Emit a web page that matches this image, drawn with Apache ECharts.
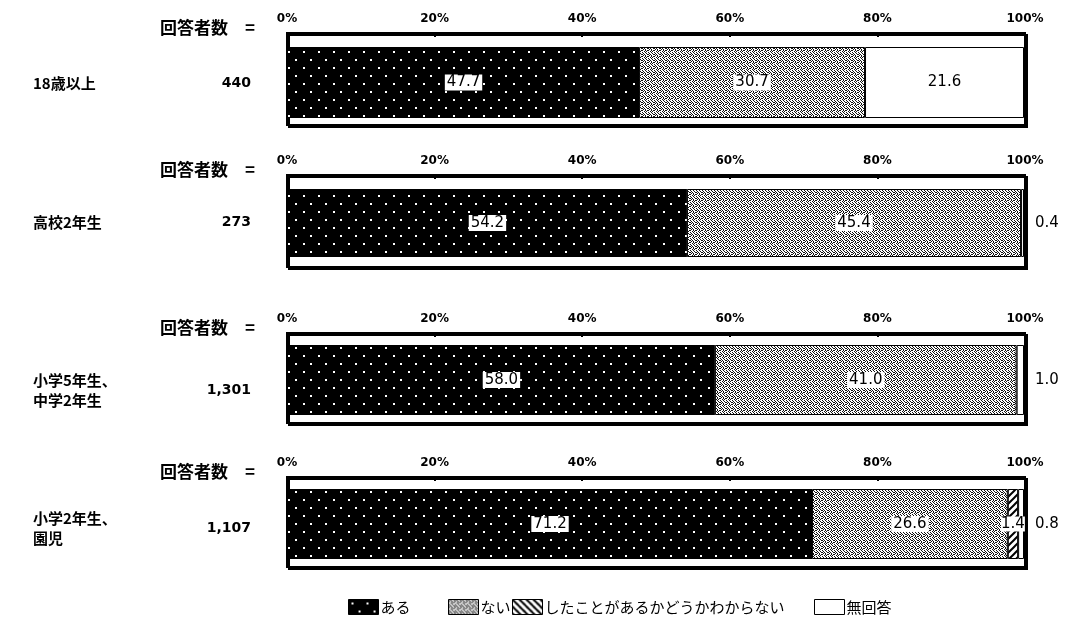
<!DOCTYPE html>
<html>
<head>
<meta charset="utf-8">
<script src="https://cdn.jsdelivr.net/npm/echarts@6/dist/echarts.min.js"></script>
<style>
html, body { margin: 0; padding: 0; background: #fff; }
#chart { width: 1066px; height: 630px; }
</style>
</head>
<body>
<div id="chart"></div>
<script>
// ---- data ----
const groupNames = ['18歳以上', '高校2年生', '小学5年生、\n中学2年生', '小学2年生、\n園児'];
const respondents = ['440', '273', '1,301', '1,107'];
const answerNames = ['ある', 'ない', 'したことがあるかどうかわからない', '無回答'];
const aru = [47.7, 54.2, 58.0, 71.2];
const nai = [30.7, 45.4, 41.0, 26.6];
const wakaranai = [null, null, null, 1.4];
const mukaitou = [21.6, 0.4, 1.0, 0.8];
const headerText = '回答者数　=';

// ---- layout: framed panel box and the bar band inside it ----
const panels = [
  { top: 33,  height: 92, barTop: 47,  barH: 71, labelY: 83 },
  { top: 175, height: 92, barTop: 189, barH: 68, labelY: 222 },
  { top: 333, height: 90, barTop: 345, barH: 70, labelY: 390 },
  { top: 477, height: 90, barTop: 489, barH: 70, labelY: 528 }
];
const legendLefts = [348, 448, 512, 814];
const JP = "'Noto Sans CJK JP', 'Noto Sans', sans-serif";
const NUM = "'DejaVu Sans', sans-serif";

// ---- fill patterns ----
function makeCanvas(w, h) {
  const c = document.createElement('canvas');
  c.width = w; c.height = h;
  return c;
}
function dotPattern() {
  const c = makeCanvas(15, 16), g = c.getContext('2d');
  g.fillStyle = '#000'; g.fillRect(0, 0, 15, 16);
  g.fillStyle = '#fff';
  g.fillRect(3, 3, 2, 2); g.fillRect(10, 11, 2, 2);
  return c;
}
function stipplePattern() {
  const mask = [
    '101001',
    '010100',
    '100101',
    '001010',
    '100100',
    '010010'
  ];
  const c = makeCanvas(6, 6), g = c.getContext('2d');
  g.fillStyle = '#fff'; g.fillRect(0, 0, 6, 6);
  g.fillStyle = '#111';
  mask.forEach((row, y) => {
    for (let x = 0; x < row.length; x++) if (row[x] === '1') g.fillRect(x, y, 1, 1);
  });
  return c;
}
function hatchPattern(forward) {
  const s = 7;
  const c = makeCanvas(s, s), g = c.getContext('2d');
  g.fillStyle = '#fff'; g.fillRect(0, 0, s, s);
  g.strokeStyle = '#000'; g.lineWidth = 2;
  const lines = forward
    ? [[-1, s + 1, s + 1, -1], [-1, 1, 1, -1], [s - 1, s + 1, s + 1, s - 1]]
    : [[-1, -1, s + 1, s + 1], [s - 1, -1, s + 1, 1], [-1, s - 1, 1, s + 1]];
  lines.forEach(l => { g.beginPath(); g.moveTo(l[0], l[1]); g.lineTo(l[2], l[3]); g.stroke(); });
  return c;
}
const fills = [
  { image: dotPattern(), repeat: 'repeat' },
  { image: stipplePattern(), repeat: 'repeat' },
  { image: hatchPattern(true), repeat: 'repeat' },
  '#fff'
];
const legendFills = [fills[0], fills[1], { image: hatchPattern(false), repeat: 'repeat' }, '#fff'];

const answerValues = [aru, nai, wakaranai, mukaitou];

// ---- components ----
const grids = [], xAxes = [], yAxes = [], series = [], graphics = [];

panels.forEach((p, i) => {
  // frame grid: border, percent axis on top
  const frameIdx = grids.length;
  grids.push({
    left: 287, right: 41, top: p.top, height: p.height,
    show: true, borderColor: '#000', borderWidth: 2,
    backgroundColor: '#fff',
    shadowColor: '#000', shadowOffsetX: 2, shadowOffsetY: 2, shadowBlur: 0
  });
  xAxes.push({
    type: 'value', gridIndex: frameIdx, position: 'top',
    min: 0, max: 100, interval: 20,
    axisLine: { show: false },
    axisTick: { show: true, inside: true, length: 4, lineStyle: { color: '#000', width: 2 } },
    splitLine: { show: false },
    axisLabel: { formatter: '{value}%', color: '#000', fontSize: 12, fontWeight: 'bold', fontFamily: NUM, margin: 8 }
  });
  yAxes.push({ type: 'category', gridIndex: frameIdx, data: [''], show: false });

  // bar grid: same horizontal scale, the band where the stacked bar sits
  const barIdx = grids.length;
  grids.push({ left: 288, right: 42, top: p.barTop, height: p.barH, show: false });
  xAxes.push({ type: 'value', gridIndex: barIdx, min: 0, max: 100, show: false });
  yAxes.push({ type: 'category', gridIndex: barIdx, data: [''], show: false });

  answerValues.forEach((vals, k) => {
    const v = vals[i];
    const small = v !== null && v < 5;
    const label = {
      show: true,
      color: '#000', fontSize: 15, fontFamily: NUM,
      formatter: prm => (prm.value == null ? '' : Number(prm.value).toFixed(1))
    };
    if (k < 2) {
      Object.assign(label, { position: 'inside', backgroundColor: '#fff', padding: [1, 2, 0, 2] });
    } else if (k === 2) {
      Object.assign(label, { position: 'inside', backgroundColor: '#fff', padding: [0, 0] });
    } else {
      Object.assign(label, { position: small ? 'right' : 'inside', distance: 11 });
    }
    series.push({
      type: 'bar', name: answerNames[k],
      xAxisIndex: barIdx, yAxisIndex: barIdx, stack: 'panel' + i,
      barWidth: '100%',
      itemStyle: { color: fills[k], borderColor: '#000', borderWidth: k === 0 ? 0 : 1 },
      label: label,
      emphasis: { disabled: true },
      data: [v]
    });
  });

  graphics.push({
    type: 'text', x: 160, y: p.top - 5,
    style: { text: headerText, font: 'bold 17px ' + JP, fill: '#000', textVerticalAlign: 'middle' }
  });
  graphics.push({
    type: 'text', x: 33, y: p.labelY,
    style: { text: groupNames[i], font: 'bold 15px ' + JP, fill: '#000', lineHeight: 20, textVerticalAlign: 'middle' }
  });
  graphics.push({
    type: 'text', x: 251, y: p.labelY,
    style: { text: respondents[i], font: 'bold 14px ' + NUM, fill: '#000', textAlign: 'right', textVerticalAlign: 'middle' }
  });
});

// one legend block per answer, placed side by side
const legends = answerNames.map((n, k) => ({
  left: legendLefts[k], top: 599, padding: 0,
  itemWidth: 30, itemHeight: 15,
  icon: 'rect',
  selectedMode: false,
  textStyle: { color: '#000', fontSize: 15, fontFamily: JP, padding: [0, 0, 0, -3] },
  data: [{ name: n, itemStyle: { color: legendFills[k], borderColor: '#000', borderWidth: 1 } }]
}));

const chart = echarts.init(document.getElementById('chart'), null, { renderer: 'canvas' });
chart.setOption({
  backgroundColor: '#fff',
  animation: false,
  grid: grids,
  xAxis: xAxes,
  yAxis: yAxes,
  series: series,
  graphic: graphics,
  legend: legends
});
</script>
</body>
</html>
